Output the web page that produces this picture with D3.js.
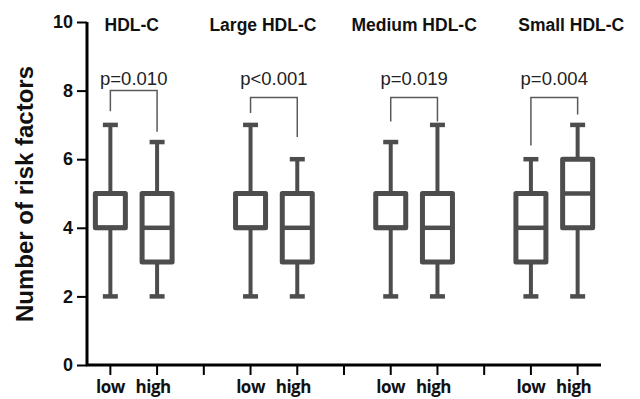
<!DOCTYPE html>
<html>
<head>
<meta charset="utf-8">
<script src="https://cdn.jsdelivr.net/npm/d3@7"></script>
<style>
  body { margin: 0; background: #fff; }
  svg { display: block; font-family: "Liberation Sans", Arial, sans-serif; }
</style>
</head>
<body>
<svg id="chart" width="640" height="399"></svg>
<script>
// data
var groups = ['HDL-C', 'Large HDL-C', 'Medium HDL-C', 'Small HDL-C'];
var levels = ['low', 'high'];
// one value per box, order: low, high for each group
var whiskerLow  = [2, 2,   2, 2,   2, 2,   2, 2];
var q1          = [4, 3,   4, 3,   4, 3,   3, 4];
var medians     = [4, 4,   4, 4,   4, 4,   4, 5];
var q3          = [5, 5,   5, 5,   5, 5,   5, 6];
var whiskerHigh = [7, 6.5, 7, 6,   6.5, 7, 6, 7];
var pLabels = ['p=0.010', 'p<0.001', 'p=0.019', 'p=0.004'];
// bracket heights in risk-factor units
var bracketTop   = [8.0, 7.8, 7.8, 7.8];
var bracketLeft  = [7.4, 7.35, 7.1, 6.4];
var bracketRight = [6.8, 6.65, 7.1, 7.3];
var yTicks = [0, 2, 4, 6, 8, 10];

// layout
var titleDx = [-2, -11, 0, 17];

var svg = d3.select('#chart');

// x slots: low, high, gap, low, high, gap ...
var slots = [];
groups.forEach(function(g, i) {
  levels.forEach(function(l) { slots.push(g + '|' + l); });
  if (i < groups.length - 1) slots.push('gap' + i);
});

var x = d3.scaleBand().domain(slots).range([87, 601]);
var y = d3.scaleLinear().domain([0, 10]).range([365, 22]);

function cx(key) { return x(key) + x.bandwidth() / 2; }

// boxes table
var boxes = [];
groups.forEach(function(g, gi) {
  levels.forEach(function(l, li) {
    var k = gi * 2 + li;
    boxes.push({key: g + '|' + l, lo: whiskerLow[k], q1: q1[k], med: medians[k], q3: q3[k], hi: whiskerHigh[k]});
  });
});

var boxColor = '#4d4d4d';
var boxW = 30, capW = 15;

var b = svg.append('g').selectAll('g')
  .data(boxes)
  .join('g')
  .attr('transform', function(d) { return 'translate(' + cx(d.key) + ',0)'; });

b.append('line')
  .attr('y1', function(d) { return y(d.hi); })
  .attr('y2', function(d) { return y(d.q3); })
  .attr('stroke', boxColor).attr('stroke-width', 4);
b.append('line')
  .attr('y1', function(d) { return y(d.q1); })
  .attr('y2', function(d) { return y(d.lo); })
  .attr('stroke', boxColor).attr('stroke-width', 4);
b.selectAll('.cap')
  .data(function(d) { return [d.hi, d.lo]; })
  .join('line')
  .attr('class', 'cap')
  .attr('x1', -capW / 2).attr('x2', capW / 2)
  .attr('y1', function(v) { return y(v); })
  .attr('y2', function(v) { return y(v); })
  .attr('stroke', boxColor).attr('stroke-width', 4.5);
b.append('rect')
  .attr('x', -boxW / 2)
  .attr('width', boxW)
  .attr('y', function(d) { return y(d.q3); })
  .attr('height', function(d) { return y(d.q1) - y(d.q3); })
  .attr('fill', '#fff')
  .attr('stroke', boxColor).attr('stroke-width', 5)
  .attr('stroke-linejoin', 'round');
b.append('line')
  .attr('x1', -boxW / 2).attr('x2', boxW / 2)
  .attr('y1', function(d) { return y(d.med); })
  .attr('y2', function(d) { return y(d.med); })
  .attr('stroke', boxColor).attr('stroke-width', 4.5);

// p-value brackets
groups.forEach(function(g, i) {
  var xl = cx(g + '|low'), xr = cx(g + '|high');
  svg.append('path')
    .attr('d', d3.line()([[xl, y(bracketLeft[i])], [xl, y(bracketTop[i])], [xr, y(bracketTop[i])], [xr, y(bracketRight[i])]]))
    .attr('fill', 'none')
    .attr('stroke', '#5a5a5a')
    .attr('stroke-width', 1.5);
  svg.append('text')
    .attr('x', (xl + xr) / 2)
    .attr('y', 85)
    .attr('text-anchor', 'middle')
    .attr('font-size', 18.5)
    .attr('fill', '#222')
    .text(pLabels[i]);
  svg.append('text')
    .attr('x', (xl + xr) / 2 + titleDx[i])
    .attr('y', 31)
    .attr('text-anchor', 'middle')
    .attr('font-size', 17.5)
    .attr('font-weight', 'bold')
    .attr('fill', '#111')
    .text(g);
});

// axes
var yAxis = svg.append('g')
  .attr('transform', 'translate(87,0)')
  .call(d3.axisLeft(y).tickValues(yTicks).tickSize(10).tickPadding(4).tickFormat(d3.format('d')));
yAxis.select('.domain').attr('stroke', '#000').attr('stroke-width', 3).attr('d', 'M0,' + y(10) + 'V' + y(0));
yAxis.selectAll('.tick line').attr('stroke', '#000').attr('stroke-width', 2);
yAxis.selectAll('.tick text')
  .attr('font-size', 18).attr('font-weight', 'bold').attr('fill', '#111')
  .attr('font-family', '"Liberation Sans", Arial, sans-serif');

var xAxis = svg.append('g')
  .attr('transform', 'translate(0,365)')
  .call(d3.axisBottom(x).tickSize(10).tickFormat(function(d) {
    return d.indexOf('|') < 0 ? '' : d.split('|')[1];
  }));
xAxis.select('.domain').attr('stroke', '#000').attr('stroke-width', 3).attr('d', 'M86,0H601');
xAxis.selectAll('.tick line').attr('stroke', '#000').attr('stroke-width', 2);
xAxis.selectAll('.tick text')
  .attr('y', 28)
  .attr('dy', 0)
  .attr('dx', function(d) { return d.indexOf('|high') > 0 ? -4 : 0; })
  .attr('font-size', 17).attr('font-weight', 'bold').attr('fill', '#111')
  .attr('font-family', '"Open Sans", sans-serif')
  .attr('letter-spacing', -0.5);

// y title
svg.append('text')
  .attr('transform', 'translate(33,194) rotate(-90)')
  .attr('text-anchor', 'middle')
  .attr('font-size', 24)
  .attr('font-weight', 'bold')
  .attr('fill', '#111')
  .text('Number of risk factors');
</script>
</body>
</html>
